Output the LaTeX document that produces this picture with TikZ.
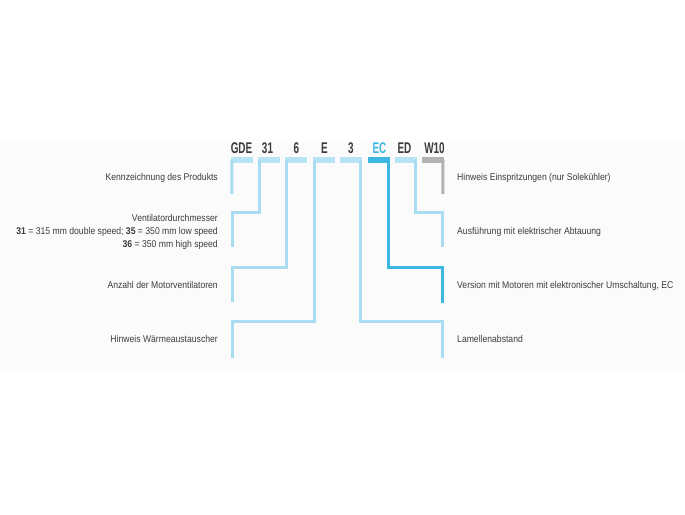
\documentclass[tikz,border=0pt]{standalone}
\usepackage{fontspec}
\setmainfont{Liberation Sans}[FakeStretch=0.88]
\newfontfamily\hdrfont{Liberation Sans}[FakeStretch=0.64]
\definecolor{txt}{HTML}{3C3C3C}
\definecolor{lblue}{HTML}{A9DCF1}
\definecolor{bblue}{HTML}{B7E3F5}
\definecolor{cyanc}{HTML}{3DB7DF}
\definecolor{grayc}{HTML}{B3B3B3}
\definecolor{bgc}{HTML}{FBFBFB}
\begin{document}
\begin{tikzpicture}[x=1pt,y=-1pt,
  bar/.style={draw=none,fill=bblue,minimum width=22pt,minimum height=6pt,inner sep=0pt},
  lnk/.style={draw=lblue,line width=3pt,line join=miter},
  code/.style={font=\hdrfont\bfseries\fontsize{15.5}{16}\selectfont,text=txt,inner sep=0pt,anchor=base},
  lbl/.style={font=\fontsize{9.8}{13}\selectfont,text=txt,inner sep=0pt},
  lleft/.style={lbl,anchor=base east},
  lright/.style={lbl,anchor=base west}]
\useasboundingbox (0,0) rectangle (685,514);
\fill[bgc] (0,143) rectangle (685,372);
% bars
\node[bar] (b1) at (241.5,160) {};
\node[bar] (b2) at (268.9,160) {};
\node[bar] (b3) at (296.3,160) {};
\node[bar] (b4) at (323.7,160) {};
\node[bar] (b5) at (351.1,160) {};
\node[bar,fill=cyanc] (b6) at (378.5,160) {};
\node[bar] (b7) at (405.9,160) {};
\node[bar,fill=grayc] (b8) at (433.3,160) {};
% codes
\node[code] (c1) at (241.5,153) {GDE};
\node[code] (c2) at (267.5,153) {31};
\node[code] (c3) at (296.5,153) {6};
\node[code] (c4) at (324.5,153) {E};
\node[code] (c5) at (350.8,153) {3};
\node[code,text=cyanc] (c6) at (379.5,153) {EC};
\node[code] (c7) at (404.5,153) {ED};
\node[code] (c8) at (434.5,153) {W10};
% connectors
\coordinate (e1) at (232,194);
\coordinate (e2) at (232,247);
\coordinate (e3) at (232,302);
\coordinate (e4) at (232,358);
\coordinate (e5) at (442.8,358);
\coordinate (e6) at (442.8,303);
\coordinate (e7) at (442.8,247);
\coordinate (e8) at (442.8,194);
\draw[lnk] ([xshift=1.5pt]b1.west) -- (e1);
\draw[lnk] ([xshift=1.5pt]b2.west) |- (232,212) -- (e2);
\draw[lnk] ([xshift=1.5pt]b3.west) |- (232,267) -- (e3);
\draw[lnk] ([xshift=1.5pt]b4.west) |- (232,321) -- (e4);
\draw[lnk] ([xshift=-1.5pt]b5.east) |- (442.8,321) -- (e5);
\draw[lnk,draw=cyanc] ([xshift=-1.5pt]b6.east) |- (442.8,267) -- (e6);
\draw[lnk] ([xshift=-1.5pt]b7.east) |- (442.8,212) -- (e7);
\draw[lnk,draw=grayc] ([xshift=-1.5pt]b8.east) -- (e8);
% labels left
\node[lleft] (l1) at (218,180.5) {Kennzeichnung des Produkts};
\node[lbl,anchor=base east,align=right] (l2) at (218,247.5) {Ventilatordurchmesser\\\textbf{31} = 315 mm double speed; \textbf{35} = 350 mm low speed\\\textbf{36} = 350 mm high speed};
\node[lleft] (l3) at (218,288.5) {Anzahl der Motorventilatoren};
\node[lleft] (l4) at (218,342.5) {Hinweis Wärmeaustauscher};
% labels right
\node[lright] (r1) at (457,180.5) {Hinweis Einspritzungen (nur Solekühler)};
\node[lright] (r2) at (457,234.5) {Ausführung mit elektrischer Abtauung};
\node[lright] (r3) at (457,288.5) {Version mit Motoren mit elektronischer Umschaltung, EC};
\node[lright] (r4) at (457,342.5) {Lamellenabstand};
\end{tikzpicture}
\end{document}
